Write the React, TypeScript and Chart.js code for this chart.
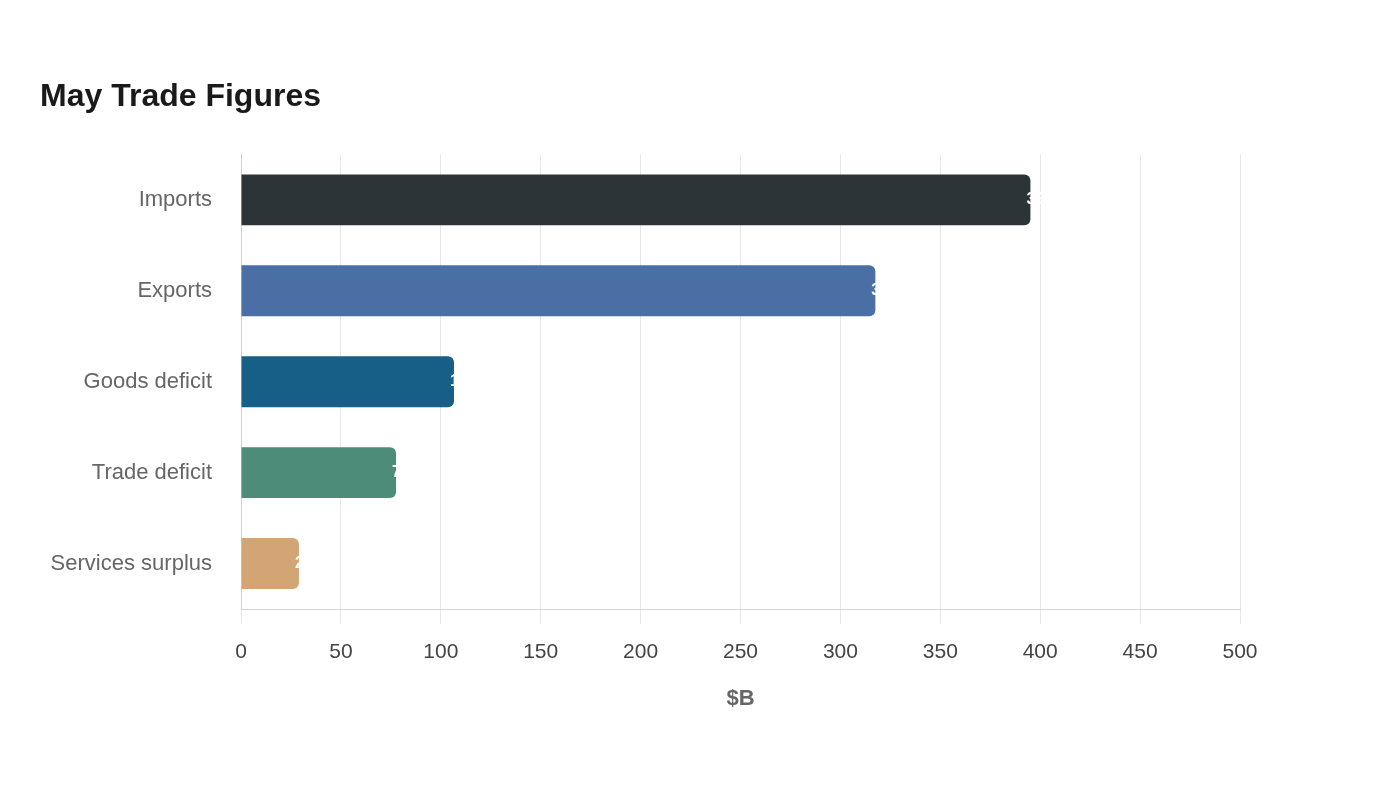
import React, { useEffect, useRef } from "react";
import { Chart, registerables } from "chart.js";

Chart.register(...registerables);

const categories = ["Imports", "Exports", "Goods deficit", "Trade deficit", "Services surplus"];
const values = [395.1, 317.5, 106.6, 77.6, 29.0];
const barColors = ["#2d3437", "#4a6fa5", "#175f87", "#4e8c7a", "#d4a574"];
const xTicks = [0, 50, 100, 150, 200, 250, 300, 350, 400, 450, 500];
const chartTitle = "May Trade Figures";
const xAxisTitle = "$B";

const FONT = "'Liberation Sans', Arial, Helvetica, sans-serif";

const valueLabelPlugin = {
  id: "valueLabels",
  afterDatasetsDraw(chart: any) {
    const ctx = chart.ctx;
    const meta = chart.getDatasetMeta(0);
    ctx.save();
    ctx.fillStyle = "#ffffff";
    ctx.font = `bold 16px ${FONT}`;
    ctx.textAlign = "left";
    ctx.textBaseline = "middle";
    meta.data.forEach((el: any, i: number) => {
      const v = chart.data.datasets[0].data[i];
      ctx.fillText(String(v), el.x - 4, el.y);
    });
    ctx.restore();
  },
};

export default function App() {
  const ref = useRef<HTMLCanvasElement>(null);
  useEffect(() => {
    if (!ref.current) return;
    Chart.defaults.font.family = FONT;
    const chart = new Chart(ref.current, {
      type: "bar",
      data: {
        labels: categories,
        datasets: [
          {
            data: values,
            backgroundColor: barColors,
            borderRadius: 6,
            borderSkipped: "start",
            barPercentage: 0.7,
            categoryPercentage: 0.8,
          },
        ],
      },
      options: {
        indexAxis: "y",
        animation: false,
        responsive: true,
        maintainAspectRatio: false,
        layout: { padding: { left: 40, right: 160, top: 0, bottom: 87.8 } },
        plugins: {
          legend: { display: false },
          tooltip: { enabled: false },
          title: {
            display: true,
            text: chartTitle,
            align: "start",
            color: "#1a1a1a",
            font: { size: 32, weight: "bold", family: FONT },
            padding: { top: 78, bottom: 38 },
          },
        },
        scales: {
          x: {
            min: 0,
            max: 500,
            afterBuildTicks: (scale: any) => {
              scale.ticks = xTicks.map((v) => ({ value: v }));
            },
            grid: { color: "#e8e8e8", tickLength: 15, drawTicks: true },
            border: { display: true, color: "#d6d6d6" },
            ticks: { color: "#444444", font: { size: 21 }, padding: 15.5 },
            title: {
              display: true,
              text: xAxisTitle,
              color: "#666666",
              font: { size: 22, weight: "bold" },
              padding: { top: 5.6, bottom: 0 },
            },
          },
          y: {
            z: 1,
            grid: { display: false, drawTicks: false },
            border: { display: true, color: "#d0d0d0" },
            ticks: { color: "#666666", font: { size: 22 }, padding: 29 },
            afterFit: (scale: any) => {
              scale.width = 201;
            },
          },
        },
      },
      plugins: [valueLabelPlugin],
    });
    return () => chart.destroy();
  }, []);
  return (
    <div style={{ position: "absolute", left: 0, top: 0, width: 1400, height: 800 }}>
      <canvas ref={ref} />
    </div>
  );
}
